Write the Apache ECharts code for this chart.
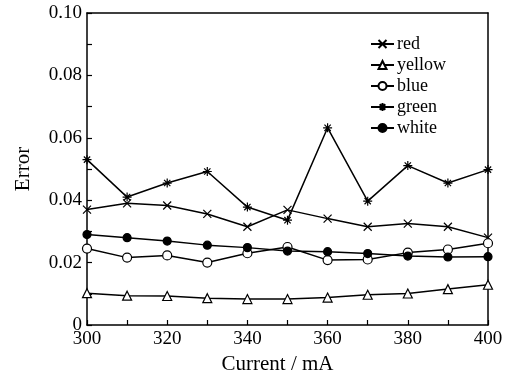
<!DOCTYPE html>
<html><head><meta charset="utf-8">
<script src="https://cdn.jsdelivr.net/npm/echarts@6/dist/echarts.min.js"></script>
<style>html,body{margin:0;padding:0;background:#fff}#c{width:507px;height:380px}</style>
</head><body><div id="c"></div>
<script>
const currents = [300,310,320,330,340,350,360,370,380,390,400];
const seriesNames = ['red','yellow','blue','green','white'];
const redVals    = [0.0370,0.0390,0.0383,0.0356,0.0315,0.0369,0.0341,0.0315,0.0325,0.0315,0.0280];
const yellowVals = [0.0102,0.0094,0.0093,0.0086,0.0083,0.0083,0.0088,0.0097,0.0101,0.0115,0.0129];
const blueVals   = [0.0245,0.0216,0.0223,0.0200,0.0230,0.0250,0.0208,0.0210,0.0232,0.0242,0.0262];
const greenVals  = [0.0530,0.0410,0.0455,0.0492,0.0378,0.0336,0.0632,0.0397,0.0511,0.0455,0.0498];
const whiteVals  = [0.0290,0.0280,0.0269,0.0256,0.0248,0.0237,0.0235,0.0229,0.0221,0.0218,0.0219];
const yTickLabels = ['0','0.02','0.04','0.06','0.08','0.10'];
const xTickLabels = ['300','320','340','360','380','400'];

const font = 'Liberation Serif';
const crossPath = 'path://M0 0 L10 10 M10 0 L0 10';
const starPath = 'path://M0 5 L10 5 M5 0 L5 10 M1.5 1.5 L8.5 8.5 M8.5 1.5 L1.5 8.5';
const valsBy = {red: redVals, yellow: yellowVals, blue: blueVals, green: greenVals, white: whiteVals};
const symBy = {
  red: {symbol: crossPath, size: 8, fill: '#000'},
  yellow: {symbol: 'triangle', size: 9, fill: '#fff'},
  blue: {symbol: 'circle', size: 9, fill: '#fff'},
  green: {symbol: starPath, size: 9, fill: '#000'},
  white: {symbol: 'circle', size: 8, fill: '#000'}
};

const chart = echarts.init(document.getElementById('c'));
chart.setOption({
  animation: false,
  backgroundColor: '#fff',
  textStyle: {fontFamily: font},
  grid: {left: 87, right: 19, top: 13, bottom: 54},
  legend: {
    orient: 'vertical', left: 365, top: 30, itemGap: 3, itemWidth: 23, itemHeight: 10,
    textStyle: {fontFamily: font, fontSize: 18, color: '#000', padding: [0,0,0,-2]},
    data: seriesNames
  },
  xAxis: [{
    type: 'value', min: 300, max: 400, interval: 10,
    name: 'Current / mA', nameLocation: 'middle', nameGap: 29,
    nameTextStyle: {fontFamily: font, fontSize: 21, color: '#000', padding: [0, 20, 0, 0]},
    axisLine: {onZero: false, lineStyle: {color: '#000', width: 1.5}},
    axisTick: {inside: true, length: 5, lineStyle: {color: '#000', width: 1.2}},
    axisLabel: {fontFamily: font, fontSize: 19, color: '#000', margin: 5,
      formatter: v => xTickLabels.includes(String(v)) ? String(v) : ''},
    splitLine: {show: false}
  },{
    type: 'value', min: 300, max: 400, position: 'top',
    axisLine: {show: true, onZero: false, lineStyle: {color: '#000', width: 1.5}},
    axisTick: {show: false}, axisLabel: {show: false}, splitLine: {show: false}
  }],
  yAxis: [{
    type: 'value', min: 0, max: 0.1, interval: 0.01,
    name: 'Error', nameLocation: 'middle', nameGap: 53,
    nameTextStyle: {fontFamily: font, fontSize: 21, color: '#000'},
    axisLine: {show: true, onZero: false, lineStyle: {color: '#000', width: 1.5}},
    axisTick: {show: true, inside: true, length: 5, lineStyle: {color: '#000', width: 1.2}},
    axisLabel: {fontFamily: font, fontSize: 19, color: '#000', margin: 5,
      formatter: v => {
        const r = Math.round(v * 100);
        if (r % 2 !== 0) return '';
        return r === 0 ? yTickLabels[0] : yTickLabels[r / 2];
      }},
    splitLine: {show: false}
  },{
    type: 'value', min: 0, max: 0.1, position: 'right',
    axisLine: {show: true, onZero: false, lineStyle: {color: '#000', width: 1.5}},
    axisTick: {show: false}, axisLabel: {show: false}, splitLine: {show: false}
  }],
  series: seriesNames.map(n => ({
    name: n, type: 'line',
    data: currents.map((c, i) => [c, valsBy[n][i]]),
    symbol: symBy[n].symbol, symbolSize: symBy[n].size,
    showAllSymbol: true,
    lineStyle: {color: '#000', width: 1.5},
    itemStyle: {color: symBy[n].fill, borderColor: '#000', borderWidth: 1.2},
    emphasis: {disabled: true}
  }))
});
</script>
</body></html>
